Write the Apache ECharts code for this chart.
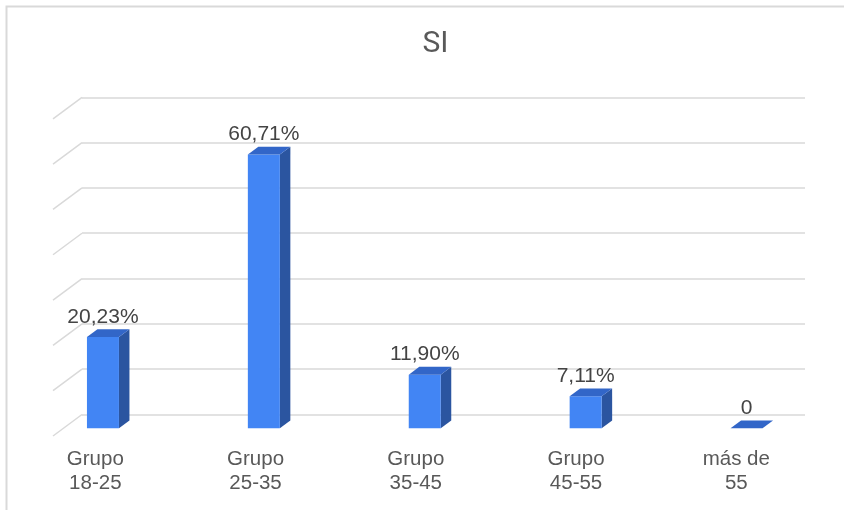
<!DOCTYPE html>
<html>
<head>
<meta charset="utf-8">
<script src="https://cdn.jsdelivr.net/npm/echarts@6/dist/echarts.min.js"></script>
<style>html,body{margin:0;padding:0;background:#fff;}#c{width:844px;height:510px;}</style>
</head>
<body>
<div id="c"></div>
<script>
const title = 'SI';
const categories = ['Grupo\n18-25', 'Grupo\n25-35', 'Grupo\n35-45', 'Grupo\n45-55', 'más de\n55'];
const values = [20.23, 60.71, 11.90, 7.11, 0];
const yMin = 0, yMax = 70, yInterval = 10;
const gridTicks = [0, 10, 20, 30, 40, 50, 60, 70];

function fmt(v) { return v === 0 ? '0' : v.toFixed(2).replace('.', ',') + '%'; }

const FONT = '"Liberation Sans", Arial, sans-serif';
const chart = echarts.init(document.getElementById('c'));
chart.setOption({
  animation: false,
  backgroundColor: '#fff',
  title: { text: title, left: 430.5, textAlign: 'center', top: 24, textStyle: { fontFamily: '"Liberation Sans Narrow", Roboto, sans-serif', fontSize: 30, fontWeight: 'normal', color: '#595959' } },
  graphic: [{ type: 'polyline', shape: { points: [[6.5, 510], [6.5, 6.5], [844, 6.5]] }, style: { stroke: '#d9d9d9', lineWidth: 2, fill: null } }],
  grid: [
    { left: 82, right: 39, top: 97.3, bottom: 95.5 },
    { left: 22.5, right: 17, top: 112.6, bottom: 81.7 },
    { left: 15.2, right: 27.6, top: 112.6, bottom: 81.7 }
  ],
  xAxis: [
    { gridIndex: 0, type: 'value', min: 0, max: 1, show: false },
    { gridIndex: 1, type: 'category', data: categories, show: false },
    { gridIndex: 2, type: 'category', data: categories, axisLine: { show: false }, axisTick: { show: false },
      axisLabel: { margin: 19, fontFamily: FONT, fontSize: 20.5, lineHeight: 24, color: '#595959', interval: 0 } }
  ],
  yAxis: [
    { gridIndex: 0, type: 'value', min: yMin, max: yMax, interval: yInterval, axisLabel: { show: false }, axisLine: { show: false }, axisTick: { show: false },
      splitLine: { show: true, lineStyle: { color: '#d9d9d9', width: 1.5 } } },
    { gridIndex: 1, type: 'value', min: yMin, max: yMax, interval: yInterval, show: false, splitLine: { show: false } },
    { gridIndex: 2, type: 'value', min: yMin, max: yMax, interval: yInterval, show: false, splitLine: { show: false } }
  ],
  series: [
    {
      type: 'custom', xAxisIndex: 0, yAxisIndex: 0, silent: true,
      data: gridTicks.map(v => [0, v]),
      renderItem: function (params, api) {
        const p = api.coord([0, api.value(1)]);
        return { type: 'line', shape: { x1: p[0], y1: p[1], x2: p[0] - 29, y2: p[1] + 21.5 }, style: { stroke: '#d9d9d9', lineWidth: 1.5 } };
      }
    },
    {
      type: 'custom', xAxisIndex: 1, yAxisIndex: 1, silent: true,
      data: values.map((v, i) => [i, v]),
      renderItem: function (params, api) {
        const v = api.value(1);
        const base = api.coord([api.value(0), 0]);
        const top = api.coord([api.value(0), v]);
        const w = 32, dx = 10.5, dy = 7.8;
        const x0 = base[0] - w / 2, x1 = base[0] + w / 2;
        const yb = base[1], yt = top[1];
        const children = [];
        if (yb - yt > 0) {
          children.push({ type: 'polygon', shape: { points: [[x1, yt], [x1 + dx, yt - dy], [x1 + dx, yb - dy], [x1, yb]] }, style: { fill: '#2b55a0' } });
          children.push({ type: 'rect', shape: { x: x0, y: yt, width: w, height: yb - yt }, style: { fill: '#4285f4' } });
        }
        children.push({ type: 'polygon', shape: { points: [[x0, yt], [x0 + dx, yt - dy], [x1 + dx, yt - dy], [x1, yt]] }, style: { fill: '#3266c8' } });
        children.push({ type: 'text', style: { x: base[0], y: yt - dy - 2, text: fmt(v), align: 'center', verticalAlign: 'bottom', font: '21px ' + FONT, fill: '#444' } });
        return { type: 'group', children: children };
      }
    }
  ]
});
</script>
</body>
</html>
